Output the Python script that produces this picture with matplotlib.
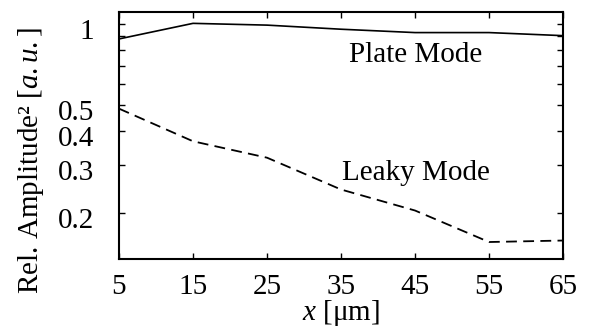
import matplotlib
matplotlib.use("Agg")
import matplotlib.pyplot as plt
from matplotlib.ticker import FixedLocator, FixedFormatter, NullLocator
from matplotlib.transforms import ScaledTranslation

plt.rcParams['font.family'] = ['Liberation Serif', 'DejaVu Serif']
plt.rcParams['mathtext.fontset'] = 'custom'
plt.rcParams['mathtext.rm'] = 'Liberation Serif'
plt.rcParams['mathtext.it'] = 'Liberation Serif:italic'

x_um = [5, 15, 25, 35, 45, 55, 65]
plate_mode = [0.880, 1.005, 0.99, 0.956, 0.929, 0.929, 0.905]
leaky_mode = [0.486, 0.368, 0.320, 0.244, 0.204, 0.156, 0.158]

ytick_vals = [0.2, 0.3, 0.4, 0.5, 0.6, 0.7, 0.8, 0.9, 1.0]
ytick_labels = ['0.2', '0.3', '0.4', '0.5', '', '', '', '', '1']
xtick_vals = [5, 15, 25, 35, 45, 55, 65]

fig = plt.figure(figsize=(5.89, 3.29), dpi=100)
ax = fig.add_axes([0.202, 0.2128, 0.754, 0.7507])

ax.plot(x_um, plate_mode, color='black', lw=1.2, solid_joinstyle='miter')
ax.plot(x_um, leaky_mode, color='black', lw=1.3, dashes=(6, 3.5))

ax.set_yscale('log')
ax.set_xlim(5, 65)
ax.set_ylim(0.135, 1.107)
ax.yaxis.set_major_locator(FixedLocator(ytick_vals))
ax.yaxis.set_major_formatter(FixedFormatter(ytick_labels))
ax.yaxis.set_minor_locator(NullLocator())
ax.set_xticks(xtick_vals)
ax.set_xticklabels([str(v) for v in xtick_vals])

ax.tick_params(axis='both', which='both', direction='in', top=True, right=True,
               length=4, width=1.0, labelsize=21)
ax.tick_params(axis='y', pad=18)
ax.tick_params(axis='x', pad=10.5)
for s in ax.spines.values():
    s.set_linewidth(1.5)

shift = ScaledTranslation(0, -0.05, fig.dpi_scale_trans)
for lbl in ax.get_yticklabels():
    lbl.set_transform(lbl.get_transform() + shift)

ax.text(45.1, 0.769, 'Plate Mode', fontsize=21, ha='center', va='center')
ax.text(45.1, 0.282, 'Leaky Mode', fontsize=21, ha='center', va='center')

ax.set_ylabel('Rel. Amplitude² [$\\mathit{a.u.}$]', fontsize=21)
ax.yaxis.set_label_coords(-0.164, 0.4)
ax.set_xlabel(r'$\mathit{x}$ [μm]', fontsize=21)
ax.xaxis.set_label_coords(0.5, -0.158)

fig.savefig('out.png', dpi=100)
